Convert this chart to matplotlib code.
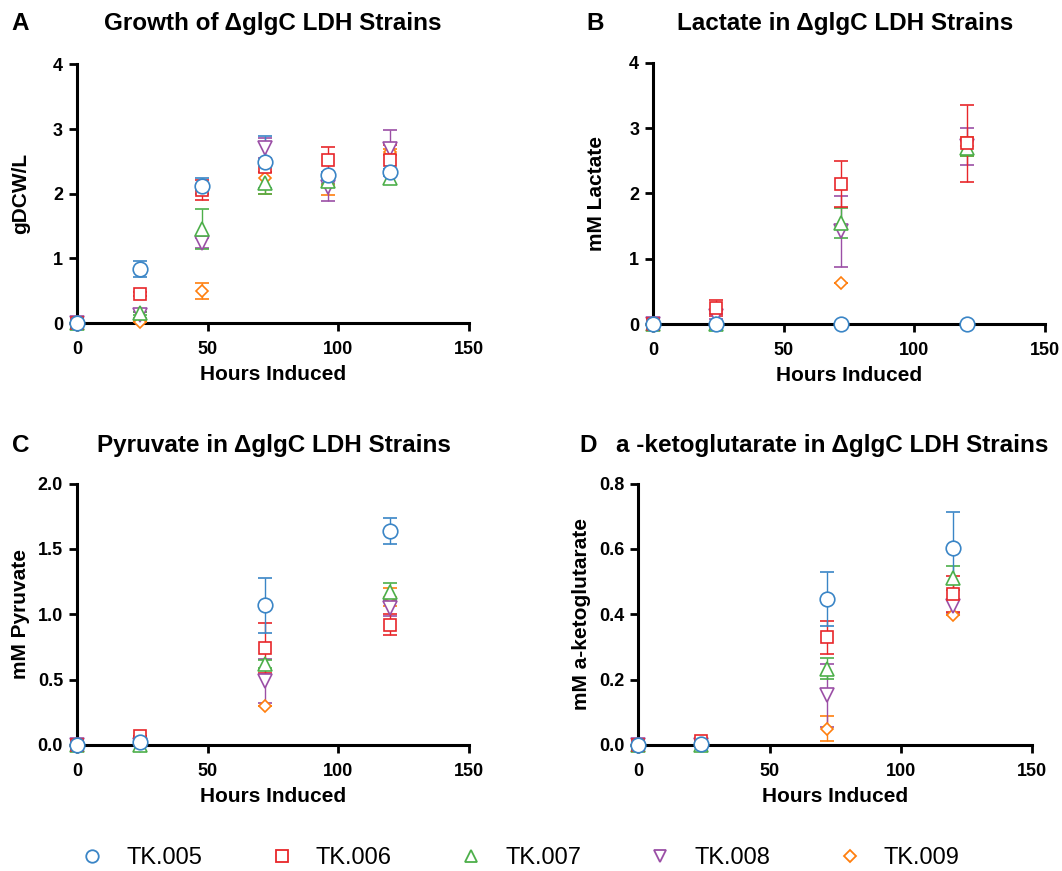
import matplotlib
matplotlib.use("Agg")
import matplotlib.pyplot as plt
from matplotlib.lines import Line2D

plt.rcParams['font.family'] = ['Liberation Sans', 'DejaVu Sans']

# strains and colours
strains = ['TK.005', 'TK.006', 'TK.007', 'TK.008', 'TK.009']
colors = ['#3a85c6', '#e8262a', '#4daf4a', '#9b4fa6', '#ff7f0e']
markers = ['o', 's', '^', 'v', 'D']
msizes = [10.5, 8.5, 10, 10, 6.5]

# growth (gDCW/L)
t_growth = [0, 24, 48, 72, 96, 120]
growth = [
    [0, 0.84, 2.12, 2.49, 2.29, 2.33],
    [0, 0.45, 2.06, 2.41, 2.52, 2.53],
    [0, 0.15, 1.45, 2.17, 2.20, 2.24],
    [0, 0.13, 1.24, 2.71, 2.11, 2.69],
    [0, 0.02, 0.50, 2.24, 2.13, 2.65],
]
growth_err = [
    [0, 0.12, 0.13, 0.40, 0.05, 0.05],
    [0, 0.03, 0.16, 0.08, 0.20, 0.22],
    [0, 0.03, 0.31, 0.17, 0.05, 0.09],
    [0, 0.05, 0.08, 0.15, 0.22, 0.30],
    [0, 0.01, 0.12, 0.24, 0.15, 0.05],
]

# metabolites sampled at fewer times
t_met = [0, 24, 72, 120]
lactate = [
    [0, 0, 0, 0],
    [0, 0.25, 2.14, 2.77],
    [0, 0.0, 1.54, 2.69],
    [0, 0.12, 1.42, 2.72],
    [0, 0.0, 0.63, 2.72],
]
lactate_err = [
    [0, 0, 0, 0],
    [0, 0.12, 0.35, 0.59],
    [0, 0.02, 0.23, 0.12],
    [0, 0.04, 0.54, 0.28],
    [0, 0, 0, 0.15],
]
pyruvate = [
    [0, 0.025, 1.07, 1.64],
    [0, 0.066, 0.74, 0.92],
    [0, 0.0, 0.62, 1.17],
    [0, 0.0, 0.49, 1.05],
    [0, 0.0, 0.30, 1.13],
]
pyruvate_err = [
    [0, 0, 0.21, 0.10],
    [0, 0, 0.19, 0.08],
    [0, 0, 0.03, 0.07],
    [0, 0, 0.17, 0.06],
    [0, 0, 0, 0.07],
]
akg = [
    [0, 0.004, 0.447, 0.603],
    [0, 0.011, 0.33, 0.462],
    [0, 0.0, 0.234, 0.511],
    [0, 0.0, 0.152, 0.424],
    [0, 0.0, 0.05, 0.397],
]
akg_err = [
    [0, 0, 0.083, 0.109],
    [0, 0, 0.05, 0.056],
    [0, 0, 0.033, 0.036],
    [0, 0, 0.097, 0.02],
    [0, 0, 0.038, 0.0],
]

fig = plt.figure(figsize=(10.62, 8.71), dpi=100)

panels = [
    ([0.0725, 0.629, 0.369, 0.297], t_growth, growth, growth_err, 'gDCW/L', (0, 4), [0, 1, 2, 3, 4], '%d'),
    ([0.615, 0.628, 0.369, 0.300], t_met, lactate, lactate_err, 'mM Lactate', (0, 4), [0, 1, 2, 3, 4], '%d'),
    ([0.0725, 0.1447, 0.369, 0.300], t_met, pyruvate, pyruvate_err, 'mM Pyruvate', (0, 2), [0, 0.5, 1, 1.5, 2], '%.1f'),
    ([0.601, 0.1447, 0.371, 0.300], t_met, akg, akg_err, 'mM a-ketoglutarate', (0, 0.8), [0, 0.2, 0.4, 0.6, 0.8], '%.1f'),
]

for rect, t, vals, errs, ylab, ylim, yticks, fmt in panels:
    ax = fig.add_axes(rect)
    # draw TK.009 first so TK.005 ends on top
    for i in reversed(range(len(strains))):
        ax.errorbar(t, vals[i], yerr=errs[i], fmt=markers[i], color=colors[i],
                    mfc='white', mec=colors[i], ms=msizes[i], mew=1.2,
                    elinewidth=1, capsize=5, capthick=1, clip_on=False, zorder=3)
    ax.set_xlim(0, 150)
    ax.set_ylim(*ylim)
    ax.set_xticks([0, 50, 100, 150])
    ax.set_yticks(yticks)
    ax.yaxis.set_major_formatter(matplotlib.ticker.FormatStrFormatter(fmt))
    for s in ['top', 'right']:
        ax.spines[s].set_visible(False)
    for s in ['left', 'bottom']:
        ax.spines[s].set_linewidth(2.2)
    ax.tick_params(width=2, length=6, labelsize=13)
    ax.tick_params(axis='x', pad=7)
    ax.tick_params(axis='y', pad=4)
    for lbl in ax.get_xticklabels() + ax.get_yticklabels():
        lbl.set_fontweight('bold')
    ax.set_xlabel('Hours Induced', fontsize=15, fontweight='bold', labelpad=5)
    ax.set_ylabel(ylab, fontsize=15, fontweight='bold')
    ax.yaxis.set_label_coords(-0.12, 0.5)

# titles and panel letters
titles = [
    (0.011, 0.257, 0.9735, 'A', 'Growth of \u0394glgC LDH Strains'),
    (0.552, 0.796, 0.9735, 'B', 'Lactate in \u0394glgC LDH Strains'),
    (0.011, 0.258, 0.488, 'C', 'Pyruvate in \u0394glgC LDH Strains'),
    (0.546, 0.784, 0.488, 'D', 'a -ketoglutarate in \u0394glgC LDH Strains'),
]
for lx, tx, y, letter, title in titles:
    fig.text(lx, y, letter, fontsize=17.5, fontweight='bold', va='center')
    fig.text(tx, y, title, fontsize=17.5, fontweight='bold', va='center', ha='center')

handles = [Line2D([], [], ls='none', marker=markers[i], mfc='white', mec=colors[i],
                  ms=9 if markers[i] != 'D' else 6.5, mew=1.3) for i in range(len(strains))]
fig.legend(handles, strains, loc='center', bbox_to_anchor=(0.487, 0.015), ncol=5,
           frameon=False, fontsize=17, handlelength=1.5, handletextpad=0.7,
           columnspacing=2.6)

fig.savefig('out.png', dpi=100)
